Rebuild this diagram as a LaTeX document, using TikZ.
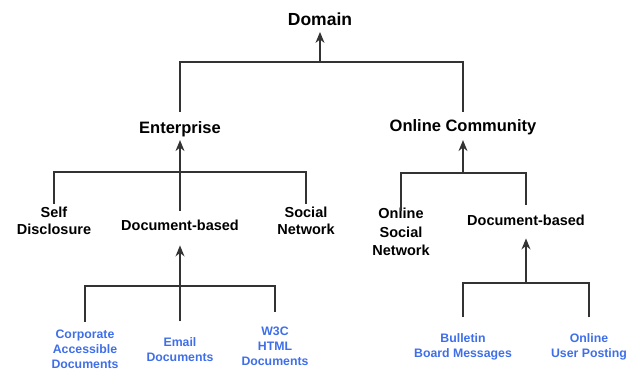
\documentclass[tikz,border=0pt]{standalone}
\usepackage{fontspec}
\setmainfont{Liberation Sans}
\usepackage{tikz}
\usetikzlibrary{arrows.meta}
\definecolor{linegray}{HTML}{333333}
\definecolor{leafblue}{HTML}{3F6FE8}
\tikzstyle{line} = [draw=linegray,line width=1.3pt]
\tikzstyle{arrow} = [line,-{Stealth[length=11pt,width=9pt]}]
\tikzstyle{top} = [inner sep=0pt,text height=12.5pt,text depth=0pt,font=\bfseries\fontsize{17.5}{20}\selectfont]
\tikzstyle{group} = [inner sep=0pt,text height=11.8pt,text depth=0pt,font=\bfseries\fontsize{16.5}{19}\selectfont]
\tikzstyle{kind} = [inner sep=0pt,text depth=0pt,align=center,font=\bfseries\fontsize{14.5}{17}\selectfont]
\tikzstyle{leaf} = [inner sep=0pt,text depth=0pt,align=center,text=leafblue,font=\bfseries\fontsize{12.3}{15}\selectfont]

\begin{document}
\begin{tikzpicture}[x=1pt,y=-1pt]
  \useasboundingbox (0,0) rectangle (635,371);
  \node[top] (domain) at (320,19) {Domain};
  \node[group] (ent) at (180,128) {Enterprise};
  \node[group] (oc) at (463,126) {Online Community};
  \node[kind] (self) at (54,220.5) {Self\\Disclosure};
  \node[kind] (docA) at (180,225) {Document-based};
  \node[kind] (social) at (306,220.5) {Social\\Network};
  \node[kind,font=\bfseries\fontsize{14.5}{18.5}\selectfont] (ocsn) at (401,232) {Online\\Social\\Network};
  \node[kind] (docB) at (526,220) {Document-based};
  \node[leaf] (corp) at (85,349) {Corporate\\Accessible\\Documents};
  \node[leaf] (email) at (180,349.5) {Email\\Documents};
  \node[leaf] (w3c) at (275,346.5) {W3C\\HTML\\Documents};
  \node[leaf] (bulletin) at (463,345.5) {Bulletin\\Board Messages};
  \node[leaf] (posting) at (589,345.5) {Online\\User Posting};
  % junctions of the bars
  \coordinate (j0) at (320,62);
  \coordinate (j1) at (180,172);
  \coordinate (j2) at (463,173);
  \coordinate (j3) at (180,286);
  \coordinate (j4) at (526,283);
  % domain
  \draw[line,shorten <=10pt] (ent) |- (j0);
  \draw[line,shorten <=8pt] (oc) |- (j0);
  \draw[arrow,shorten >=6.5pt] (j0) -- (domain);
  % enterprise
  \draw[line,shorten <=3pt] (self) |- (j1);
  \draw[line,shorten <=3pt] (social) |- (j1);
  \draw[arrow,shorten <=9pt,shorten >=6pt] (docA) -- (ent);
  % online community
  \draw[line,shorten <=-3pt] (ocsn) |- (j2);
  \draw[line,shorten <=10pt] (docB) |- (j2);
  \draw[arrow,shorten >=8pt] (j2) -- (oc);
  % enterprise documents
  \draw[line,shorten <=8pt] (corp) |- (j3);
  \draw[line,shorten <=15pt] (w3c) |- (j3);
  \draw[arrow,shorten <=16pt,shorten >=15pt] (email) -- (docA);
  % community documents
  \draw[line,shorten <=16pt] (bulletin) |- (j4);
  \draw[line,shorten <=16pt] (posting) |- (j4);
  \draw[arrow,shorten >=13pt] (j4) -- (docB);
\end{tikzpicture}
\end{document}
